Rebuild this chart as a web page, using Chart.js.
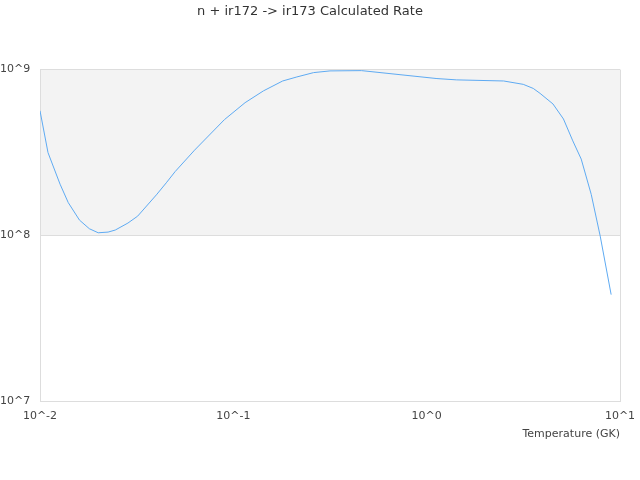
<!DOCTYPE html>
<html>
<head>
<meta charset="utf-8">
<script src="https://cdn.jsdelivr.net/npm/chart.js@4"></script>
<style>
  html, body { margin: 0; padding: 0; background: #fff; }
  #wrap { width: 640px; height: 480px; }
</style>
</head>
<body>
<div id="wrap"><canvas id="rateChart" width="640" height="480"></canvas></div>
<script>
const temperatures = [0.01, 0.011, 0.0127, 0.014, 0.016, 0.018, 0.02, 0.0225, 0.0245, 0.0285,
  0.032, 0.04, 0.045, 0.05, 0.063, 0.09, 0.115, 0.143, 0.18, 0.213, 0.26, 0.316, 0.46,
  1.13, 1.43, 2.5, 3.16, 3.56, 3.86, 4.5, 5.1, 5.7, 6.3, 7.1, 7.9, 9];
const rates = [5.65e8, 3.16e8, 2.04e8, 1.58e8, 1.24e8, 1.10e8, 1.04e8, 1.05e8, 1.08e8, 1.19e8,
  1.31e8, 1.76e8, 2.08e8, 2.43e8, 3.27e8, 5.0e8, 6.32e8, 7.44e8, 8.54e8, 9.03e8, 9.59e8, 9.82e8, 9.86e8,
  8.83e8, 8.67e8, 8.54e8, 8.15e8, 7.7e8, 7.19e8, 6.21e8, 5.04e8, 3.72e8, 2.89e8, 1.77e8, 9.93e7, 4.41e7];
const xTicks = [0.01, 0.1, 1, 10];
const yTicks = [1e7, 1e8, 1e9];

const powerLabel = v => '10^' + Math.round(Math.log10(v));

// shaded band between 10^8 and 10^9
const bandPlugin = {
  id: 'band',
  beforeDraw(chart) {
    const { ctx, chartArea, scales } = chart;
    const top = scales.y.getPixelForValue(1e9);
    const bottom = scales.y.getPixelForValue(1e8);
    ctx.save();
    ctx.fillStyle = '#f3f3f3';
    ctx.fillRect(chartArea.left, top, chartArea.right - chartArea.left, bottom - top);
    ctx.restore();
  }
};

var ctx = document.getElementById('rateChart').getContext('2d');
var chart = new Chart(ctx, {
  type: 'line',
  data: {
    datasets: [{
      label: 'Rate',
      data: temperatures.map((t, i) => ({ x: t, y: rates[i] })),
      borderColor: '#5eaaf2',
      borderWidth: 1,
      pointRadius: 0,
      tension: 0,
      fill: false
    }]
  },
  options: {
    responsive: false,
    animation: false,
    layout: { padding: { left: 0, right: 20, top: 0, bottom: 39 } },
    plugins: {
      legend: { display: false },
      tooltip: { enabled: false },
      title: {
        display: true,
        text: 'n + ir172 -> ir173 Calculated Rate',
        color: '#333',
        font: { family: 'DejaVu Sans', size: 13, weight: 'normal' },
        padding: { top: 4, bottom: 50 }
      }
    },
    scales: {
      x: {
        type: 'logarithmic',
        min: 0.01,
        max: 10,
        afterBuildTicks: scale => { scale.ticks = xTicks.map(v => ({ value: v })); },
        afterFit: scale => { scale.paddingLeft = 0; scale.paddingRight = 0; },
        ticks: {
          callback: v => powerLabel(v),
          color: '#444',
          font: { family: 'DejaVu Sans', size: 11 },
          maxRotation: 0,
          padding: 8
        },
        grid: {
          color: c => (c.index === 0 || c.index === xTicks.length - 1) ? '#dddddd' : 'transparent',
          drawTicks: false
        },
        border: { display: false },
        title: {
          display: true,
          text: 'Temperature (GK)',
          align: 'end',
          color: '#444',
          font: { family: 'DejaVu Sans', size: 11 },
          padding: { top: -3, bottom: 0 }
        }
      },
      y: {
        type: 'logarithmic',
        min: 1e7,
        max: 1e9,
        afterBuildTicks: scale => { scale.ticks = yTicks.map(v => ({ value: v })); },
        afterFit: scale => { scale.width = 40; },
        ticks: {
          callback: v => powerLabel(v),
          color: '#444',
          font: { family: 'DejaVu Sans', size: 11 },
          crossAlign: 'far',
          padding: 4
        },
        grid: { color: '#dddddd', drawTicks: false },
        border: { display: false }
      }
    }
  },
  plugins: [bandPlugin]
});
</script>
</body>
</html>
